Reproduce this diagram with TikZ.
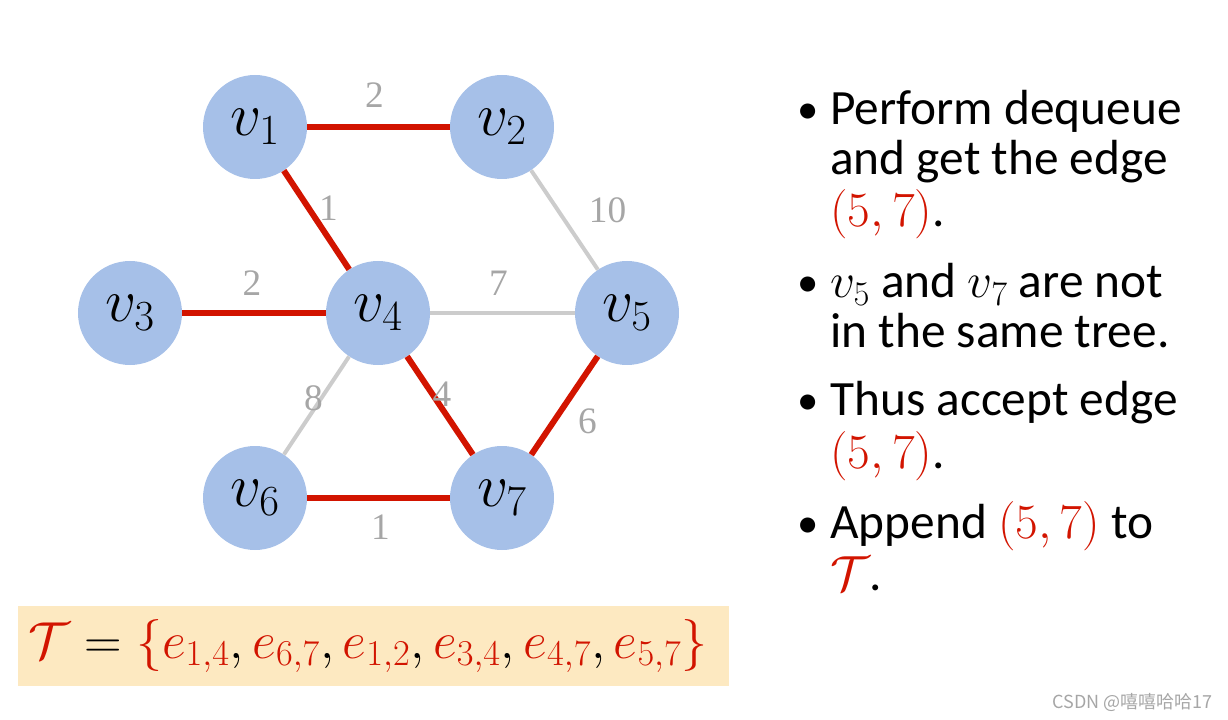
\documentclass[tikz,border=0pt]{standalone}
\usepackage{fix-cm}
\usepackage{fontspec}
\setmainfont{Carlito}
\newfontfamily\wfont{Liberation Serif}
\newfontfamily\cjkfont{Noto Sans CJK SC}
\usetikzlibrary{positioning}

\definecolor{vblue}{RGB}{166,192,232}
\definecolor{ered}{RGB}{210,20,0}
\definecolor{egray}{RGB}{204,204,204}
\definecolor{wgray}{RGB}{166,166,166}
\definecolor{boxyellow}{RGB}{253,233,193}

\tikzset{
    vertex/.style={circle, fill=vblue, minimum size=78pt, inner sep=0pt, font=\fontsize{46}{46}\selectfont},
    tree/.style={draw=ered, line width=4.5pt},
    rest/.style={draw=egray, line width=3pt},
    weight/.style={text=wgray, inner sep=0pt, font=\wfont\fontsize{28}{28}\selectfont},
    txt/.style={anchor=base west, inner sep=0pt, font=\fontsize{37}{37}\selectfont},
    dot/.style={anchor=base west, inner sep=0pt, font=\fontsize{32}{32}\selectfont},
}
\newcommand{\red}[1]{{\color{ered}#1}}

\begin{document}
\begin{tikzpicture}[x=0.75pt, y=-0.75pt]
    \useasboundingbox (0,0) rectangle (1228,720);

    % vertices
    \node[vertex] (v1) at (255,127) {$v_1$};
    \node[vertex] (v2) at (502,127) {$v_2$};
    \node[vertex] (v3) at (130,313) {$v_3$};
    \node[vertex] (v4) at (378,313) {$v_4$};
    \node[vertex] (v5) at (627,313) {$v_5$};
    \node[vertex] (v6) at (255,498) {$v_6$};
    \node[vertex] (v7) at (502,498) {$v_7$};

    % edges with weights
    \draw[tree] (v1) -- (v2) node[weight, midway, shift={(-4,-32)}] (w12) {2};
    \draw[tree] (v1) -- (v4) node[weight, midway, shift={(12,-12)}] (w14) {1};
    \draw[rest] (v2) -- (v5) node[weight, midway, shift={(43,-10)}] (w25) {10};
    \draw[tree] (v3) -- (v4) node[weight, midway, shift={(-2,-30)}] (w34) {2};
    \draw[rest] (v4) -- (v5) node[weight, midway, shift={(-4,-30)}] (w45) {7};
    \draw[rest] (v4) -- (v6) node[weight, midway, shift={(-3,-7)}] (w46) {8};
    \draw[tree] (v4) -- (v7) node[weight, midway, shift={(2,-11)}] (w47) {4};
    \draw[tree] (v5) -- (v7) node[weight, midway, shift={(23,16)}] (w57) {6};
    \draw[tree] (v6) -- (v7) node[weight, midway, shift={(2,29)}] (w67) {1};

    % tree set
    \fill[boxyellow] (18,606) rectangle (729,686);
    \node[anchor=west, inner sep=0pt, font=\fontsize{39}{39}\selectfont] (tset) at (28,646)
        {$\red{\mathcal{T}} = \red{\{}\red{e_{1,4}}, \red{e_{6,7}}, \red{e_{1,2}}, \red{e_{3,4}}, \red{e_{4,7}}, \red{e_{5,7}}\red{\}}$};

    % bullets
    \foreach \y in {124,297,414,537}
        \node[dot] at (797,\y) {•};
    \node[txt] (l1) at (830,125) {Perform dequeue};
    \node[txt] (l2) at (830,175) {and get the edge};
    \node[txt] (l3) at (830,227) {\red{$(5,7)$}.};
    \node[txt] (l4) at (830,298) {$v_5$ and $v_7$ are not};
    \node[txt] (l5) at (830,348) {in the same tree.};
    \node[txt] (l6) at (830,415) {Thus accept edge};
    \node[txt] (l7) at (830,468) {\red{$(5,7)$}.};
    \node[txt] (l8) at (830,538) {Append \red{$(5,7)$} to};
    \node[txt] (l9) at (830,590) {\red{$\mathcal{T}$}.};

    % watermark
    \node[anchor=base east, inner sep=0pt, text=wgray, font=\cjkfont\fontsize{13.5}{13.5}\selectfont] (mark) at (1213,708) {CSDN @嘻嘻哈哈17};
\end{tikzpicture}
\end{document}
